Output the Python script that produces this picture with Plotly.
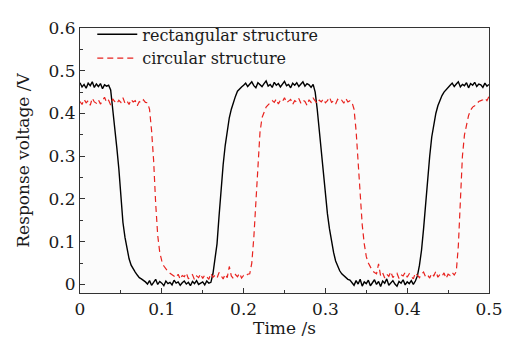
import numpy as np
import plotly.graph_objects as go

# sampling times (s)
time_s = np.round(np.arange(201) * 0.0025, 4)

rect_v = [
    0.472, 0.462, 0.468, 0.459, 0.471, 0.465, 0.474, 0.461, 0.469, 0.463, 0.470, 0.458, 0.467, 0.464, 0.466,
    0.455, 0.41, 0.37, 0.32, 0.27, 0.20, 0.145, 0.11, 0.08, 0.06, 0.045, 0.036, 0.029, 0.022, 0.016, 0.013, 0.010,
    0.006, 0.001, 0.009, -0.002, 0.004, 0.012, 0.000, 0.007, 0.003, -0.003, 0.008, 0.002, 0.005, -0.001, 0.010, 0.003,
    0.006, -0.002, 0.004, 0.008, 0.001, 0.005, -0.003, 0.007, 0.002, 0.009, 0.000, 0.004, 0.006, -0.001, 0.008, 0.003, 0.005,
    0.025, 0.06, 0.095, 0.16, 0.225, 0.28, 0.325, 0.36, 0.39, 0.41, 0.428, 0.44, 0.452, 0.458, 0.462, 0.466,
    0.471, 0.463, 0.469, 0.474, 0.465, 0.460, 0.472, 0.467, 0.463, 0.470, 0.476, 0.464, 0.468, 0.461, 0.473, 0.466, 0.470,
    0.462, 0.469, 0.475, 0.465, 0.468, 0.460, 0.471, 0.466, 0.472, 0.463, 0.469, 0.474, 0.464, 0.470, 0.467, 0.461, 0.468,
    0.45, 0.41, 0.36, 0.31, 0.255, 0.205, 0.165, 0.13, 0.10, 0.075, 0.055, 0.042, 0.032, 0.025, 0.020, 0.016, 0.012, 0.010,
    0.005, -0.002, 0.009, 0.001, 0.012, -0.004, 0.006, 0.002, 0.010, -0.003, 0.004, 0.011, 0.000, 0.007, -0.005, 0.008,
    0.003, 0.013, -0.002, 0.005, 0.009, 0.001, -0.004, 0.007, 0.003, 0.011, -0.001, 0.006, 0.002, 0.009, 0.000, 0.008,
    0.02, 0.045, 0.08, 0.13, 0.19, 0.25, 0.30, 0.345, 0.375, 0.40, 0.418, 0.432, 0.442, 0.45, 0.456, 0.46,
    0.466, 0.471, 0.463, 0.469, 0.474, 0.462, 0.468, 0.465, 0.472, 0.460, 0.470, 0.466, 0.473, 0.463, 0.469, 0.467,
    0.461, 0.471, 0.464, 0.468,
]

circ_v = [
    0.428, 0.421, 0.433, 0.425, 0.430, 0.419, 0.436, 0.427, 0.424, 0.432, 0.422, 0.429, 0.438, 0.426, 0.431, 0.420,
    0.434, 0.428, 0.423, 0.431, 0.426, 0.437, 0.424, 0.429, 0.421, 0.433, 0.427, 0.430, 0.418, 0.428, 0.425, 0.432, 0.426,
    0.425, 0.41, 0.36, 0.29, 0.19, 0.115, 0.075, 0.055, 0.043, 0.036, 0.030, 0.026, 0.022, 0.020,
    0.016, 0.024, 0.012, 0.021, 0.018, 0.027, 0.013, 0.019, 0.023, 0.011, 0.020, 0.016, 0.025, 0.014, 0.022, 0.018,
    0.012, 0.026, 0.017, 0.021, 0.015, 0.028, 0.019, 0.013, 0.024, 0.016, 0.042, 0.020, 0.014, 0.023, 0.018, 0.026,
    0.015, 0.021, 0.019, 0.024,
    0.025, 0.05, 0.11, 0.20, 0.29, 0.355, 0.39, 0.405, 0.415, 0.42, 0.424,
    0.430, 0.426, 0.434, 0.422, 0.431, 0.428, 0.437, 0.425, 0.429, 0.433, 0.421, 0.430, 0.427, 0.435, 0.424, 0.431,
    0.428, 0.419, 0.432, 0.426, 0.436, 0.429, 0.423, 0.431, 0.427, 0.434, 0.425, 0.430, 0.438, 0.426, 0.429, 0.422,
    0.433, 0.428, 0.431, 0.424, 0.435, 0.427, 0.430, 0.426,
    0.41, 0.36, 0.28, 0.20, 0.14, 0.095, 0.065, 0.05, 0.04, 0.032, 0.028, 0.025,
    0.048, 0.020, 0.027, 0.015, 0.024, 0.019, 0.030, 0.016, 0.022, 0.026, 0.014, 0.023, 0.020, 0.028, 0.017, 0.025,
    0.019, 0.013, 0.027, 0.021, 0.016, 0.024, 0.029, 0.018, 0.022, 0.015, 0.026, 0.020, 0.031, 0.017, 0.023, 0.019,
    0.027, 0.014, 0.024, 0.021, 0.028, 0.022,
    0.03, 0.09, 0.19, 0.30, 0.35, 0.375, 0.395, 0.408, 0.415, 0.418, 0.423, 0.428, 0.43, 0.432, 0.436, 0.43, 0.44,
]

series_names = ["rectangular structure", "circular structure"]
x_ticks = [0, 0.1, 0.2, 0.3, 0.4, 0.5]
y_ticks = [0, 0.1, 0.2, 0.3, 0.4, 0.5, 0.6]

FONT = "DejaVu Serif"
TXT = "#1a1a1a"
FS = 17

fig = go.Figure()
fig.add_trace(go.Scatter(x=time_s, y=rect_v, mode="lines", name=series_names[0],
                         line=dict(color="black", width=1.4)))
fig.add_trace(go.Scatter(x=time_s, y=circ_v, mode="lines", name=series_names[1],
                         line=dict(color="#e8231f", width=1.2, dash="6px,4px")))

axis_common = dict(
    showline=True, linecolor="#333", linewidth=1.2, mirror=True,
    ticks="inside", ticklen=5, tickcolor="#333", tickwidth=1,
    showgrid=False, zeroline=False, automargin=False,
    tickfont=dict(family=FONT, size=FS, color=TXT),
    minor=dict(ticks="inside", ticklen=3, dtick=0.05, tickcolor="#333", showgrid=False),
)

fig.update_xaxes(range=[0, 0.5], tickvals=x_ticks, ticktext=[f"{v:g}" for v in x_ticks],
                 title=dict(text="Time /s", font=dict(family=FONT, size=FS, color=TXT), standoff=3),
                 **axis_common)
fig.update_yaxes(range=[-0.02, 0.6], tickvals=y_ticks, ticktext=[f"{v:g}" for v in y_ticks],
                 title=dict(text="Response voltage /V", font=dict(family=FONT, size=FS, color=TXT), standoff=14),
                 **axis_common)

# page body adds an 8px offset; margins compensate so the plot area sits at x 80-489, y 17-293
fig.update_layout(
    width=502, height=330,
    margin=dict(l=72, r=21, t=9, b=45),
    paper_bgcolor="white", plot_bgcolor="#fbfbfb",
    showlegend=True,
    legend=dict(x=0.03, y=1.04, xanchor="left", yanchor="top", bgcolor="rgba(0,0,0,0)",
                font=dict(family=FONT, size=16, color=TXT), tracegroupgap=0,
                itemwidth=40),
)

fig.write_html("out.html")
